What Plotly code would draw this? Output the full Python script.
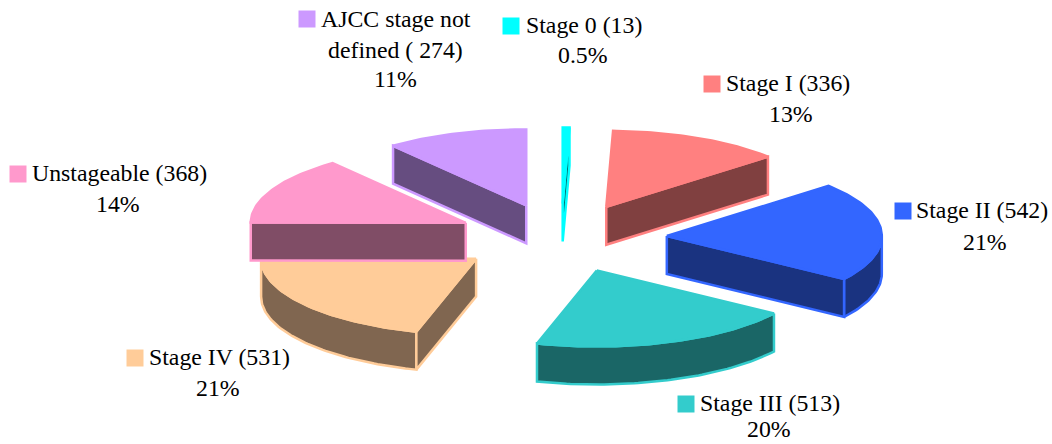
import math
import plotly.graph_objects as go

# --- data ---
categories = ["Stage 0", "Stage I", "Stage II", "Stage III", "Stage IV", "Unstageable", "AJCC stage not defined"]
values = [13, 336, 542, 513, 531, 368, 274]
first_lines = ["Stage 0 (13)", "Stage I (336)", "Stage II (542)", "Stage III (513)", "Stage IV (531)", "Unstageable (368)", "AJCC stage not"]
percent_labels = ["0.5%", "13%", "21%", "20%", "21%", "14%", "11%"]
face_colors = ["#00FFFF", "#FF8080", "#3366FF", "#33CCCC", "#FFCC99", "#FF99CC", "#CC99FF"]
side_colors = ["#006666", "#804040", "#1A3380", "#1A6666", "#806650", "#804D66", "#664D80"]

# --- projected-pie geometry ---
W, H = 1052, 444
CX, CY = 561, 238      # pie centre, screen px
RX, RY = 215, 76         # ellipse radii of the top face
EX, EY = 106, 34.5       # explosion distance
DEPTH = 38               # extrusion height


def pt(cx, cy, deg):
    r = math.radians(deg)
    return cx + RX * math.sin(r), cy - RY * math.cos(r)


def ring(points):
    xs = [p[0] for p in points] + [points[0][0]]
    ys = [p[1] for p in points] + [points[0][1]]
    return xs, ys


fig = go.Figure()
total = sum(values)
angle = 0.0
wedges = []
for name, v, fc, sc in zip(categories, values, face_colors, side_colors):
    sweep = 360.0 * v / total
    t0, t1 = angle, angle + sweep
    angle = t1
    mid = math.radians((t0 + t1) / 2)
    ax, ay = CX + EX * math.sin(mid), CY - EY * math.cos(mid)
    steps = max(2, int(sweep))
    arc = [pt(ax, ay, t0 + sweep * i / steps) for i in range(steps + 1)]
    wedges.append((name, t0, t1, ax, ay, arc, fc, sc))


def add_poly(points, fill, line, name):
    xs, ys = ring(points)
    fig.add_trace(go.Scatter(x=xs, y=ys, mode="lines", fill="toself", fillcolor=fill,
                             line=dict(color=line, width=2.5, shape="linear"),
                             name=name, showlegend=False, hoverinfo="name"))


for name, t0, t1, ax, ay, arc, fc, sc in wedges:
    # outer wall: only the part that faces the viewer (90..270 degrees)
    lo, hi = max(t0, 90.0), min(t1, 270.0)
    if hi > lo:
        n = max(2, int(hi - lo))
        top = [pt(ax, ay, lo + (hi - lo) * i / n) for i in range(n + 1)]
        bottom = [(x, y + DEPTH) for x, y in reversed(top)]
        add_poly(top + bottom, sc, fc, name)
    # cut walls: visible when the wedge interior lies above the edge on screen
    mx, my = pt(ax, ay, (t0 + t1) / 2)
    for t in (t0, t1):
        ex, ey = pt(ax, ay, t)
        dx, dy = ex - ax, ey - ay
        if abs(dx) < 1:
            continue
        line_y_at_mid = ay + dy * (mx - ax) / dx
        if my < line_y_at_mid:
            add_poly([(ax, ay), (ex, ey), (ex, ey + DEPTH), (ax, ay + DEPTH)], sc, fc, name)
    # top face
    add_poly([(ax, ay)] + arc, fc, fc, name)

# --- labels ---
label_pos = {
    "Stage 0": (584, 25, 583, 55, 511, 26),
    "Stage I": (788, 83, 791, 114, 712, 84),
    "Stage II": (982, 210, 985, 242, 903, 211),
    "Stage III": (770, 403, 769, 429, 686, 404),
    "Stage IV": (219, 357, 218, 388, 135, 358),
    "Unstageable": (119, 173, 118, 204, 18, 174),
    "AJCC stage not defined": (395.5, 19, 395, 79, 307, 19),
}
FONT = dict(family="Liberation Serif", size=23.8, color="#000000")
annotations = []
for i, name in enumerate(categories):
    x1, y1, x2, y2, sx, sy = label_pos[name]
    annotations.append(dict(x=x1, y=y1, text=first_lines[i]))
    annotations.append(dict(x=x2, y=y2, text=percent_labels[i]))
    fig.add_trace(go.Scatter(x=[sx], y=[sy], mode="markers", showlegend=False, hoverinfo="skip",
                             marker=dict(symbol="square", size=17, color=face_colors[i], line=dict(width=0))))
annotations.append(dict(x=395, y=50, text="defined ( 274)"))
for a in annotations:
    a.update(xref="x", yref="y", showarrow=False, xanchor="center", yanchor="middle", font=FONT)

fig.update_layout(
    width=W, height=H, margin=dict(l=0, r=0, t=0, b=0),
    paper_bgcolor="white", plot_bgcolor="white", showlegend=False,
    xaxis=dict(range=[0, W], visible=False, fixedrange=True),
    yaxis=dict(range=[H, 0], visible=False, fixedrange=True),
    annotations=annotations,
)
fig.write_html("out.html", config=dict(displayModeBar=False), post_script="document.body.style.margin='0';")
